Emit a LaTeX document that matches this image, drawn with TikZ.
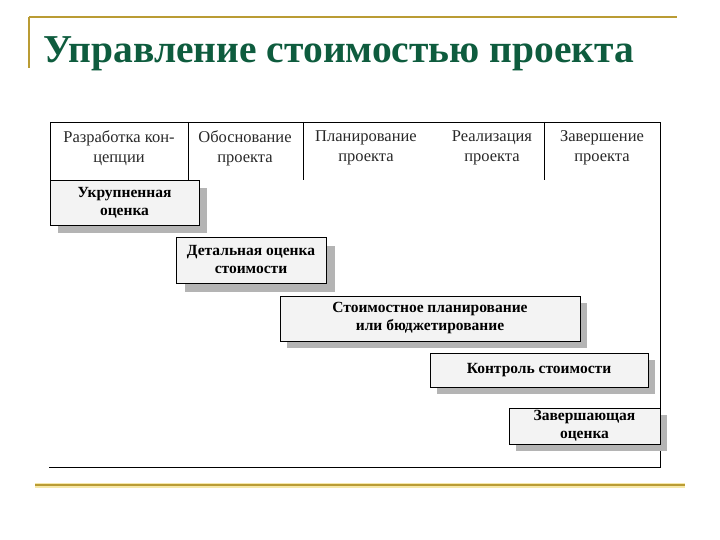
\documentclass[tikz,border=0pt]{standalone}
\usepackage{fontspec}
\setmainfont{Liberation Serif}
\definecolor{titlegreen}{RGB}{14,92,62}
\definecolor{gold}{RGB}{186,156,52}
\definecolor{goldhalo}{RGB}{246,232,170}
\definecolor{boxfill}{RGB}{243,243,243}
\definecolor{shadowgray}{RGB}{180,180,180}
\definecolor{headtext}{RGB}{40,40,40}
\tikzset{
  headlabel/.style={align=center, text=headtext, font=\fontsize{16.5}{20}\selectfont, inner sep=0pt},
  boxlabel/.style={align=center, font=\bfseries\fontsize{15.5}{18}\selectfont, inner sep=0pt},
  framerule/.style={draw=black, line width=0.8pt},
  stagebox/.style={draw=black, line width=0.8pt, fill=boxfill},
  stageshadow/.style={fill=shadowgray, draw=none}
}
\newcommand{\stage}[6]{%
  % #1 name, #2 left, #3 top, #4 right, #5 bottom, #6 shadow offset
  \fill[stageshadow] (#2+#6,#3+#6) rectangle (#4+#6,#5+#6);
  \draw[stagebox] (#2,#3) rectangle (#4,#5);
  \coordinate (#1) at ({(#2+#4)/2},{(#3+#5)/2});
}
\begin{document}
\begin{tikzpicture}[x=1pt,y=-1pt]
\useasboundingbox (0,0) rectangle (720,540);
% title decoration
\draw[gold, line width=1.6pt] (29,17) -- (677,17);
\draw[gold, line width=1.6pt] (29,17) -- (29,68);
\node[anchor=base west, text=titlegreen, font=\bfseries\fontsize{39.5}{42}\selectfont, inner sep=0pt] (title) at (43,63) {Управление стоимостью проекта};
% bottom gold rule
\draw[goldhalo, line width=5pt] (35,485) -- (685,485);
\draw[gold, line width=2.2pt] (35,485) -- (685,485);
% frame
\coordinate (ftl) at (50,122);
\coordinate (ftr) at (660,122);
\coordinate (fbr) at (660,467);
\coordinate (fbl) at (49,467);
\coordinate (fl) at (50,180);
\draw[framerule] (fl) -- (ftl) -- (ftr) -- (fbr) -- (fbl);
\foreach \x in {188,303,544} \draw[framerule] (\x,122) -- (\x,180);
% header labels
\node[headlabel] (h1) at (119,148) {Разработка кон-\\цепции};
\node[headlabel] (h2) at (245,148) {Обоснование\\проекта};
\node[headlabel] (h3) at (366,148) {Планирование\\проекта};
\node[headlabel] (h4) at (492,148) {Реализация\\проекта};
\node[headlabel] (h5) at (602,148) {Завершение\\проекта};
% stage boxes
\stage{b1}{50}{180}{199}{225}{8}
\node[boxlabel] (t1) at (b1) {Укрупненная\\оценка};
\stage{b2}{176}{237}{326}{283}{9}
\node[boxlabel] (t2) at (b2) {Детальная оценка\\стоимости};
\stage{b3}{280}{296}{580}{341}{7}
\node[boxlabel] (t3) at (b3) {Стоимостное планирование\\или бюджетирование};
\stage{b4}{430}{353}{648}{387}{7}
\node[boxlabel] (t4) at (b4) {Контроль стоимости};
\stage{b5}{509}{408}{660}{444}{7}
\node[boxlabel] (t5) at (b5) {Завершающая\\оценка};
\end{tikzpicture}
\end{document}
